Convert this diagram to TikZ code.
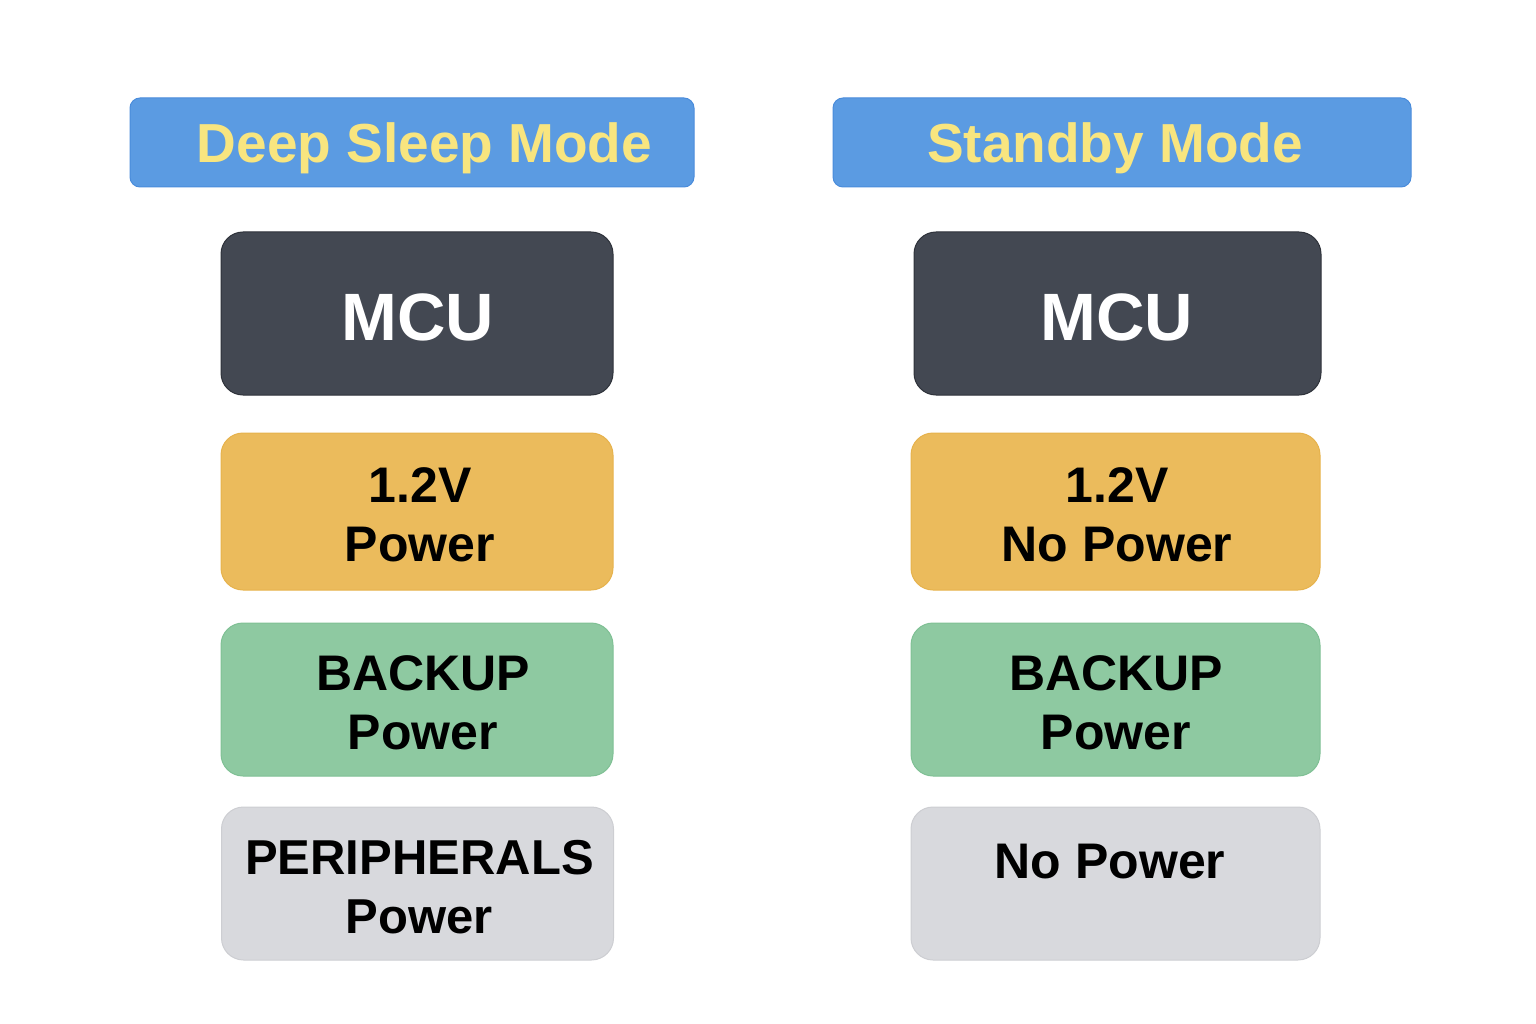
\documentclass[tikz,border=0pt]{standalone}
\usepackage{fontspec}
\setmainfont{Liberation Sans}
\definecolor{titlebg}{HTML}{5B9BE2}
\definecolor{titlebd}{HTML}{4A8CDB}
\definecolor{titletx}{HTML}{F8E57F}
\definecolor{mcubg}{HTML}{434852}
\definecolor{mcubd}{HTML}{2E323A}
\definecolor{volbg}{HTML}{EBBB5C}
\definecolor{volbd}{HTML}{E6B24C}
\definecolor{bakbg}{HTML}{8EC9A1}
\definecolor{bakbd}{HTML}{7FC094}
\definecolor{perbg}{HTML}{D8D9DD}
\definecolor{perbd}{HTML}{CDCED2}
\begin{document}
\begin{tikzpicture}[x=1pt,y=-1pt,
  titlebox/.style={draw=titlebd,fill=titlebg,rounded corners=10pt,line width=1pt,inner sep=0pt},
  blockbox/.style={rounded corners=22pt,line width=1pt,inner sep=0pt},
  mcubox/.style={blockbox,draw=mcubd,fill=mcubg},
  volbox/.style={blockbox,draw=volbd,fill=volbg},
  bakbox/.style={blockbox,draw=bakbd,fill=bakbg},
  perbox/.style={blockbox,draw=perbd,fill=perbg},
  titletext/.style={anchor=base,text=titletx,font=\fontsize{55}{60}\selectfont\bfseries},
  mcutext/.style={anchor=base,text=white,font=\fontsize{67}{72}\selectfont\bfseries},
  bodytext/.style={text=black,align=center,font=\fontsize{50}{59}\selectfont\bfseries}
]
\useasboundingbox (0,0) rectangle (1536,1024);
% left column
\node[titlebox,minimum width=564pt,minimum height=89pt] (tl) at (412,142.5) {};
\node[titletext] (tlt) at (424.5,163) {Deep Sleep Mode};
\node[mcubox,minimum width=392pt,minimum height=163pt] (ml) at (417,313.5) {};
\node[mcutext] (mlt) at (418,340) {MCU};
\node[volbox,minimum width=392pt,minimum height=157pt] (vl) at (417,511.5) {};
\node[bodytext] (vlt) at (420,515) {1.2V\\Power};
\node[bakbox,minimum width=392pt,minimum height=153pt] (bl) at (417,699.5) {};
\node[bodytext] (blt) at (423,703) {BACKUP\\Power};
\node[perbox,minimum width=392pt,minimum height=153pt] (pl) at (417.5,883.5) {};
\node[bodytext,font=\fontsize{49}{59}\selectfont\bfseries] (plt) at (419.5,887) {PERIPHERALS\\Power};
% right column
\node[titlebox,minimum width=578pt,minimum height=89pt] (tr) at (1122,142.5) {};
\node[titletext] (trt) at (1115,163) {Standby Mode};
\node[mcubox,minimum width=407pt,minimum height=163pt] (mr) at (1117.5,313.5) {};
\node[mcutext] (mrt) at (1117,340) {MCU};
\node[volbox,minimum width=409pt,minimum height=157pt] (vr) at (1115.5,511.5) {};
\node[bodytext] (vrt) at (1117,515) {1.2V\\No Power};
\node[bakbox,minimum width=409pt,minimum height=153pt] (br) at (1115.5,699.5) {};
\node[bodytext] (brt) at (1116,703) {BACKUP\\Power};
\node[perbox,minimum width=409pt,minimum height=153pt] (pr) at (1115.5,883.5) {};
\node[bodytext,anchor=base] (prt) at (1110,878) {No Power};
\end{tikzpicture}
\end{document}
